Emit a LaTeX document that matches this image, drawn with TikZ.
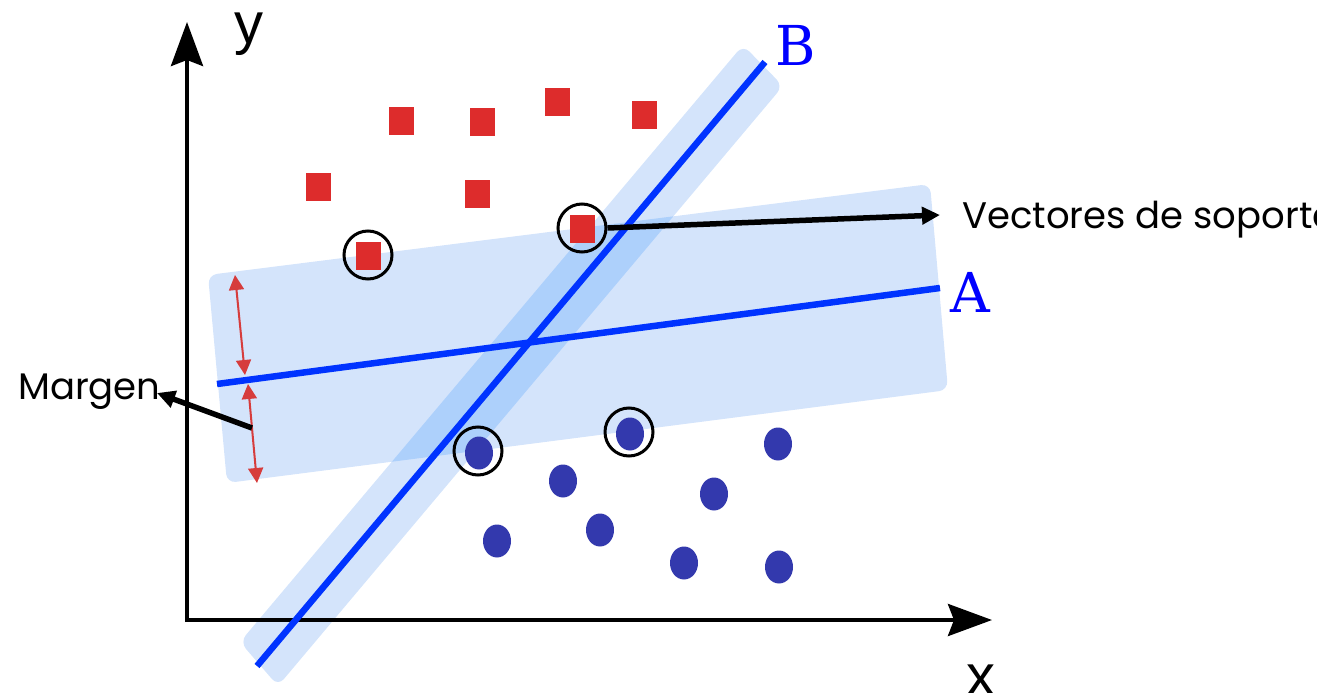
\documentclass[tikz,border=0pt]{standalone}
\usepackage{fontspec}
\setmainfont{Poppins}
\newfontfamily\serifAB{DejaVu Serif}
\newfontfamily\axisfont{Liberation Sans}
\usetikzlibrary{arrows.meta,shapes.geometric}
\definecolor{sqred}{RGB}{221,44,44}
\definecolor{dotblue}{RGB}{51,57,173}
\definecolor{lineblue}{RGB}{0,51,255}
\definecolor{bandlight}{RGB}{212,228,251}
\definecolor{banddark}{RGB}{173,208,251}
\definecolor{arrred}{RGB}{214,60,60}
\definecolor{labblue}{RGB}{0,0,255}
\begin{document}
\begin{tikzpicture}[x=1pt,y=-1pt,
  sq/.style={rectangle,fill=sqred,minimum width=25pt,minimum height=28pt,inner sep=0pt},
  dot/.style={ellipse,fill=dotblue,minimum width=28pt,minimum height=33pt,inner sep=0pt},
  svring/.style={circle,draw=black,line width=3pt,minimum size=48pt,inner sep=0pt},
  sepline/.style={lineblue,line width=6.5pt},
  axisline/.style={line width=4pt,-{Stealth[length=44pt,width=32pt,inset=6pt]}},
  blackarrow/.style={line width=5.5pt,-{Triangle[length=18pt,width=17pt]}},
  marginarrow/.style={arrred,line width=2pt,{Triangle[length=15pt,width=15pt]}-{Triangle[length=15pt,width=15pt]}},
  txt/.style={inner sep=0pt,anchor=base west},
  captxt/.style={txt,font=\fontsize{37}{40}\selectfont},
  ablab/.style={txt,text=labblue,font=\serifAB\fontsize{55}{60}\selectfont},
  axlab/.style={txt,font=\axisfont\fontsize{58}{60}\selectfont}
]
\useasboundingbox (0,0) rectangle (1317,693);

% bands
\fill[bandlight,rounded corners=9pt] (208,275) -- (930,184) -- (948,390) -- (227,483) -- cycle;
\fill[bandlight,rounded corners=9pt] (743,45) -- (783,86) -- (278,686) -- (240,642) -- cycle;
\begin{scope}
  \clip (208,275) -- (930,184) -- (948,390) -- (227,483) -- cycle;
  \fill[banddark,rounded corners=9pt] (743,45) -- (783,86) -- (278,686) -- (240,642) -- cycle;
\end{scope}

% axes
\coordinate (O) at (187,622);
\coordinate (O2) at (185,620);
\coordinate (ytip) at (187,22);
\coordinate (xtip) at (992,620);
\draw[axisline] (O) -- (ytip);
\draw[axisline] (O2) -- (xtip);

% separating lines
\coordinate (B1) at (257,666);
\coordinate (B2) at (765,62);
\coordinate (A1) at (217,384);
\coordinate (A2) at (940,288);
\draw[sepline] (B1) -- (B2);
\draw[sepline] (A1) -- (A2);

% margin arrows
\coordinate (m1a) at (235,275);
\coordinate (m1b) at (245,375);
\coordinate (m2a) at (248,384);
\coordinate (m2b) at (257,483);
\draw[marginarrow] (m1a) -- (m1b);
\draw[marginarrow] (m2a) -- (m2b);

% red squares
\node[sq] (r1) at (318,187) {};
\node[sq] (r2) at (401,121) {};
\node[sq] (r3) at (482,122) {};
\node[sq] (r4) at (557,102) {};
\node[sq] (r5) at (644,115) {};
\node[sq] (r6) at (477,194) {};
\node[sq] (r7) at (368,256) {};
\node[sq] (r8) at (582,229) {};

% blue dots
\node[dot] (b1) at (479,453) {};
\node[dot] (b2) at (630,434) {};
\node[dot] (b3) at (563,481) {};
\node[dot] (b4) at (778,444) {};
\node[dot] (b5) at (714,494) {};
\node[dot] (b6) at (497,541) {};
\node[dot] (b7) at (600,530) {};
\node[dot] (b8) at (684,563) {};
\node[dot] (b9) at (779,567) {};

% support vector rings
\node[svring] (sv1) at (368,255) {};
\node[svring] (sv2) at (582,228) {};
\node[svring] (sv3) at (478,451) {};
\node[svring] (sv4) at (629,432) {};

% labels
\node[captxt] (vec) at (962,228) {Vectores de soporte};
\node[captxt] (marg) at (18,399) {Margen};
\node[ablab] (la) at (950,312) {A};
\node[ablab] (lb) at (775,66) {B};
\node[axlab] (ly) at (234,44) {y};
\node[axlab] (lx) at (966,695) {x};

% pointer arrows
\coordinate (vtip) at (940,215);
\draw[blackarrow] (sv2.east) -- (vtip);
\coordinate (mstart) at (252,428);
\coordinate (mtip) at (157,393);
\draw[blackarrow] (mstart) -- (mtip);
\end{tikzpicture}
\end{document}
